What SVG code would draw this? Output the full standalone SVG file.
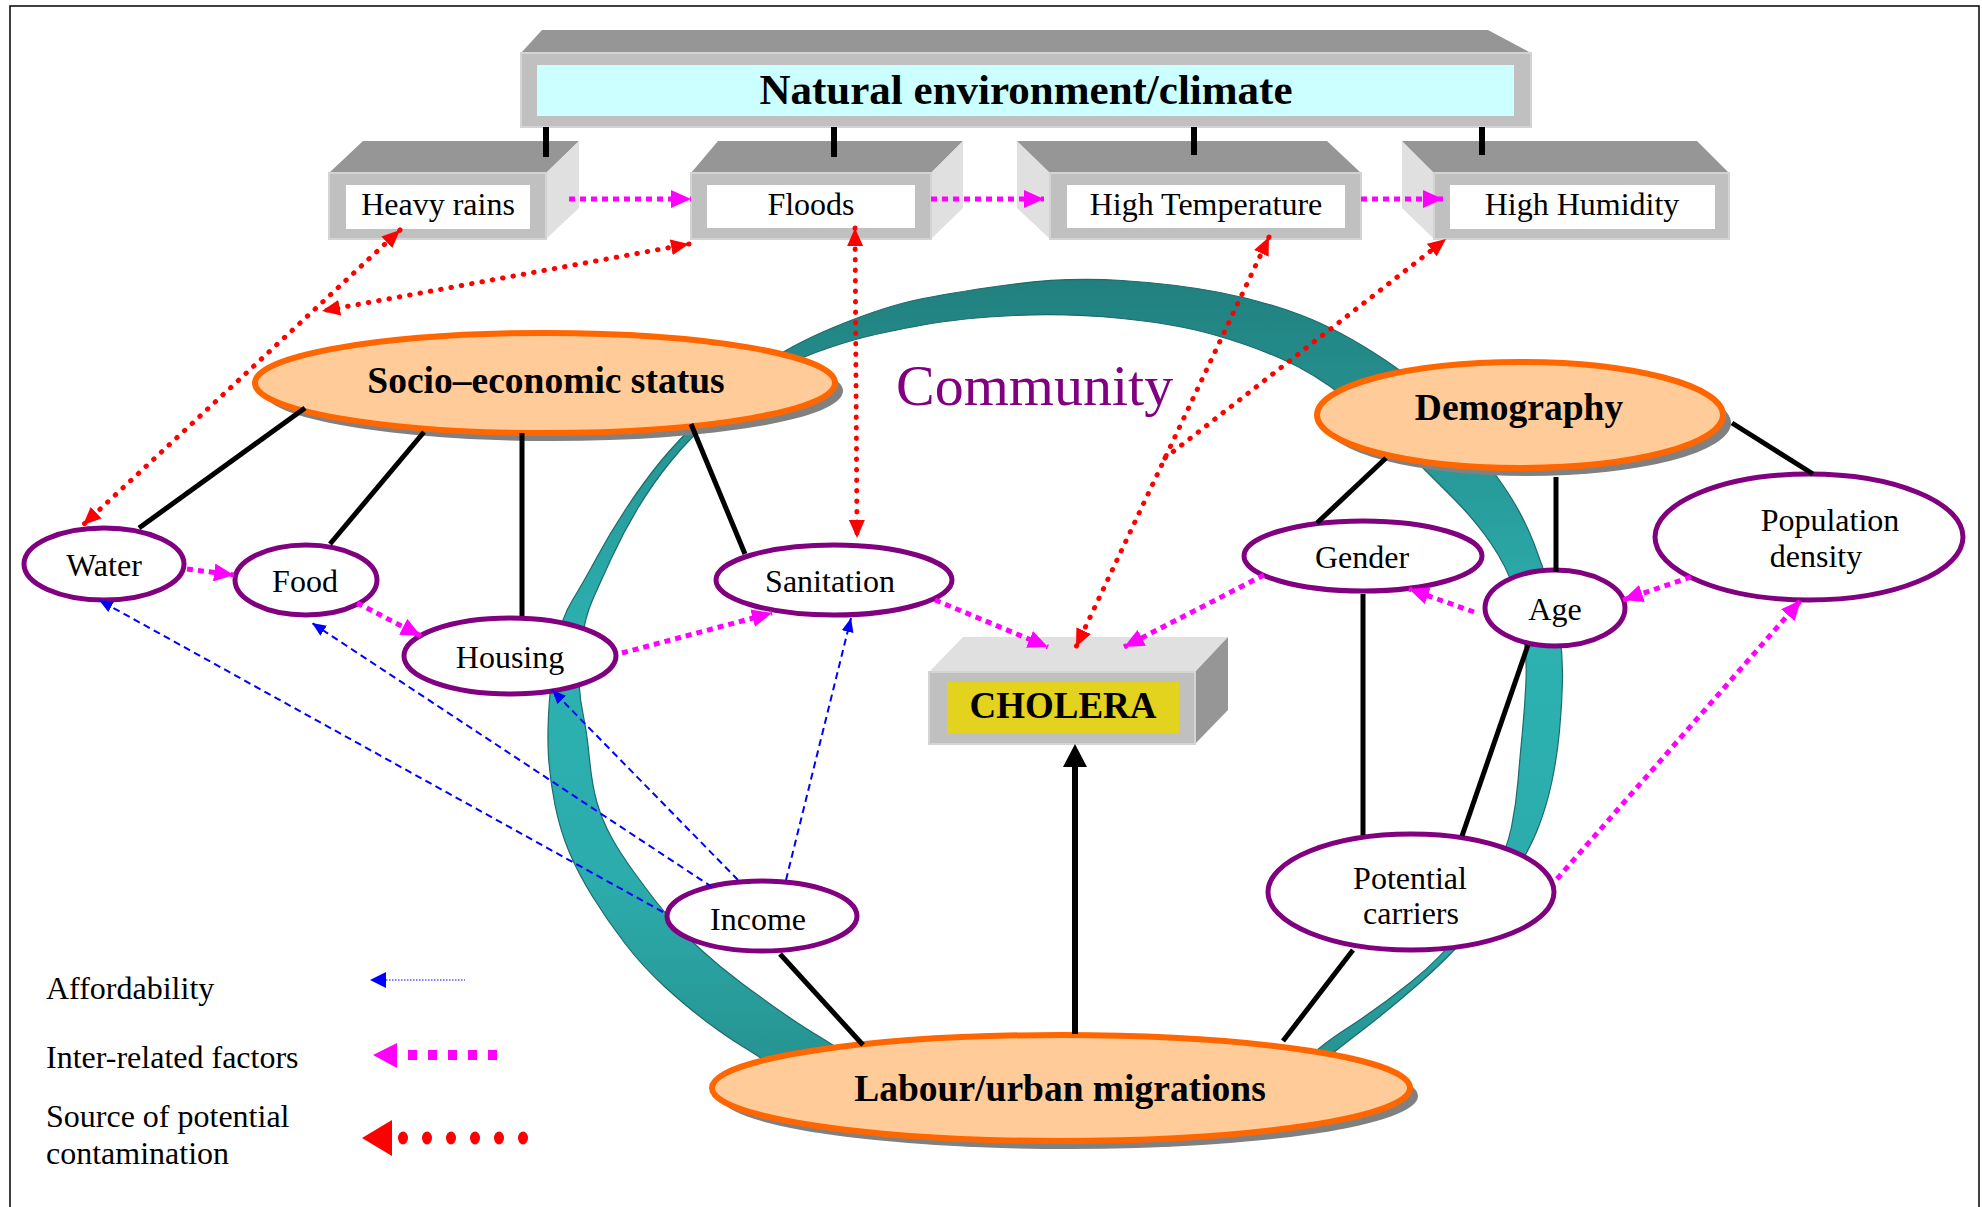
<svg xmlns="http://www.w3.org/2000/svg" width="1982" height="1207" viewBox="0 0 1982 1207">
<style>
.top{fill:#969696}
.side{fill:#E0E0E0}
.front{fill:#C0C0C0;stroke:#D4D4D4;stroke-width:2}
.inner{fill:#FFFFFF}
.t{font-family:"Liberation Serif","Times New Roman",serif;font-size:32px;text-anchor:middle;fill:#000}
.b{font-weight:bold;font-size:37.5px}
.lg{text-anchor:start}
.factor{fill:#FFFFFF;stroke:#800080;stroke-width:5}
.major{fill:#FFCC99;stroke:#FF6600;stroke-width:6}
.shadow{fill:#808080}
.black{stroke:#000;stroke-width:5;fill:none}
.inter{stroke:#FF00FF;stroke-width:5;stroke-dasharray:6 5;fill:none}
.contam{stroke:#FF0000;stroke-width:5;stroke-dasharray:0.5 10;stroke-linecap:round;fill:none}
.afford{stroke:#0000FF;stroke-width:2;stroke-dasharray:7 4.5;fill:none}
</style>
<defs>
<linearGradient id="ringGrad" gradientUnits="userSpaceOnUse" x1="0" y1="277" x2="0" y2="1080">
<stop offset="0" stop-color="#21807E"/>
<stop offset="0.25" stop-color="#279A99"/>
<stop offset="0.45" stop-color="#2DB1B1"/>
<stop offset="0.75" stop-color="#2CACAC"/>
<stop offset="1" stop-color="#25918F"/>
</linearGradient>
<marker id="mHead" markerUnits="userSpaceOnUse" markerWidth="20" markerHeight="18" viewBox="0 0 20 18" refX="20" refY="9" orient="auto-start-reverse"><path d="M0,0 L20,9 L0,18 z" fill="#FF00FF"/></marker>
<marker id="rHead" markerUnits="userSpaceOnUse" markerWidth="18" markerHeight="16" viewBox="0 0 18 16" refX="18" refY="8" orient="auto-start-reverse"><path d="M0,0 L18,8 L0,16 z" fill="#FF0000"/></marker>
<marker id="bHead" markerUnits="userSpaceOnUse" markerWidth="14" markerHeight="12" viewBox="0 0 14 12" refX="14" refY="6" orient="auto-start-reverse"><path d="M0,0 L14,6 L0,12 z" fill="#0000FF"/></marker>
<marker id="kHead" markerUnits="userSpaceOnUse" markerWidth="23" markerHeight="24" viewBox="0 0 23 24" refX="0" refY="12" orient="auto"><path d="M0,0 L23,12 L0,24 z" fill="#000"/></marker>
</defs>

<rect id="frame" x="10" y="6" width="1969" height="1215" fill="#FFFFFF" stroke="#000" stroke-width="1.5"/>

<g id="community-ring">
<path fill="url(#ringGrad)" stroke="#1E6A6A" stroke-width="1.2" stroke-linejoin="round" d="M800,1085 L780,1071 Q760,1057 743.5,1047 Q727,1037 707,1022 Q687,1007 665,987 Q643,967 625,943.5 Q607,920 592.5,896.5 Q578,873 569,851.5 Q560,830 555,805 Q550,780 548.5,756.5 Q547,733 549.5,700 Q552,667 557,642 Q562,617 572.5,600 Q583,583 596.5,558 Q610,533 626.5,508 Q643,483 660.5,461.5 Q678,440 704,416 Q730,392 757,370 Q784,348 834.5,327 Q885,306 923,298.5 Q961,291 1014.5,284 Q1068,277 1122,280.5 Q1176,284 1220,292.5 Q1264,301 1302,315.5 Q1340,330 1385,360 Q1430,390 1463.5,432.5 Q1497,475 1511,497.5 Q1525,520 1534,543.5 Q1543,567 1549.5,588.5 Q1556,610 1559.5,633 Q1563,656 1562.5,680.5 Q1562,705 1559.5,731 Q1557,757 1552,781 Q1547,805 1538.5,827 Q1530,849 1512.5,877 Q1495,905 1471,932 Q1447,959 1418.5,984 Q1390,1009 1360,1032 Q1330,1055 1315,1067.5 L1300,1080 L1290,1080 L1302.5,1064.5 Q1315,1049 1347.5,1028 Q1380,1007 1411,982 Q1442,957 1461,931 Q1480,905 1493.5,877 Q1507,849 1511.5,827 Q1516,805 1518,781 Q1520,757 1522.5,731 Q1525,705 1526,680.5 Q1527,656 1523.5,633 Q1520,610 1513.5,588.5 Q1507,567 1491,543.5 Q1475,520 1452.5,497.5 Q1430,475 1405,450 Q1380,425 1347,399 Q1314,373 1282,359 Q1250,345 1213,334.5 Q1176,324 1122,318.5 Q1068,313 1014.5,315.5 Q961,318 923,325 Q885,332 865,337 Q845,342 817,352 Q789,362 762,380 Q735,398 712.5,418 Q690,438 671.5,460.5 Q653,483 638,508 Q623,533 611.5,558 Q600,583 592.5,600 Q585,617 581.5,642 Q578,667 579,683.5 Q580,700 583.5,716.5 Q587,733 589.5,759 Q592,785 597,802.5 Q602,820 611,836.5 Q620,853 633.5,871.5 Q647,890 656,901.5 Q665,913 676,925 Q687,937 703.5,952 Q720,967 740,982 Q760,997 781.5,1012 Q803,1027 820,1037 Q837,1047 858.5,1063.5 L880,1080 Z"/>
<text class="t" x="896" y="405" style="font-size:58px;text-anchor:start;fill:#800080">Community</text>
</g>

<g id="natural-environment">
<polygon class="top" points="521,53 542,30 1488,30 1531,53"/>
<rect class="front" x="521" y="53" width="1010" height="74"/>
<rect x="537" y="65" width="977" height="51" fill="#CCFFFF"/>
<text class="t b" x="1026" y="104" style="font-size:43px">Natural environment/climate</text>
</g>

<g id="heavy-rains">
<polygon class="top" points="329,173 363,141 579,141 546,173"/>
<polygon class="side" points="546,173 579,141 579,208 546,239"/>
<rect class="front" x="329" y="173" width="217" height="66"/>
<rect class="inner" x="346" y="185" width="184" height="44"/>
<text class="t" x="438" y="215">Heavy rains</text>
</g>

<g id="floods">
<polygon class="top" points="691,173 718,141 963,141 931,173"/>
<polygon class="side" points="931,173 963,141 963,208 931,239"/>
<rect class="front" x="691" y="173" width="240" height="66"/>
<rect class="inner" x="707" y="185" width="208" height="43"/>
<text class="t" x="811" y="215">Floods</text>
</g>

<g id="high-temperature">
<polygon class="side" points="1017,141 1050,173 1050,239 1017,208"/>
<polygon class="top" points="1017,141 1327,141 1361,173 1050,173"/>
<rect class="front" x="1050" y="173" width="311" height="66"/>
<rect class="inner" x="1067" y="185" width="278" height="43"/>
<text class="t" x="1206" y="215">High Temperature</text>
</g>

<g id="high-humidity">
<polygon class="side" points="1402,141 1434,173 1434,239 1402,208"/>
<polygon class="top" points="1402,141 1697,141 1729,173 1434,173"/>
<rect class="front" x="1434" y="173" width="295" height="66"/>
<rect class="inner" x="1450" y="185" width="265" height="44"/>
<text class="t" x="1582" y="215">High Humidity</text>
</g>

<g id="cholera">
<polygon points="929,672 963,637 1228,637 1195,672" fill="#E0E0E0"/>
<polygon points="1195,672 1228,637 1228,710 1195,744" fill="#969696"/>
<rect class="front" x="929" y="672" width="266" height="72"/>
<rect x="947" y="682" width="232" height="51" fill="#E3D21E"/>
<text class="t b" x="1063" y="718" style="font-size:37px">CHOLERA</text>
</g>

<g id="socio-economic-status">
<ellipse class="shadow" cx="553" cy="391" rx="290" ry="50"/>
<ellipse class="major" cx="545" cy="383" rx="290" ry="50"/>
<text class="t b" x="546" y="393">Socio–economic status</text>
</g>

<g id="demography">
<ellipse class="shadow" cx="1528" cy="423" rx="203" ry="53"/>
<ellipse class="major" cx="1520" cy="415" rx="203" ry="53"/>
<text class="t b" x="1519" y="420">Demography</text>
</g>

<g id="labour-urban-migrations">
<ellipse class="shadow" cx="1069" cy="1096" rx="349" ry="53"/>
<ellipse class="major" cx="1061" cy="1088" rx="349" ry="53"/>
<text class="t b" x="1060" y="1101">Labour/urban migrations</text>
</g>

<g id="water"><ellipse class="factor" cx="104" cy="564" rx="80" ry="36"/><text class="t" x="104" y="576">Water</text></g>
<g id="food"><ellipse class="factor" cx="306" cy="580" rx="71" ry="35"/><text class="t" x="305" y="592">Food</text></g>
<g id="housing"><ellipse class="factor" cx="510" cy="656" rx="106" ry="38"/><text class="t" x="510" y="668">Housing</text></g>
<g id="sanitation"><ellipse class="factor" cx="834" cy="580" rx="118" ry="35"/><text class="t" x="830" y="592">Sanitation</text></g>
<g id="income"><ellipse class="factor" cx="762" cy="916" rx="95" ry="35"/><text class="t" x="758" y="930">Income</text></g>
<g id="gender"><ellipse class="factor" cx="1363" cy="556" rx="119" ry="35"/><text class="t" x="1362" y="568">Gender</text></g>
<g id="age"><ellipse class="factor" cx="1555" cy="608" rx="70" ry="38"/><text class="t" x="1555" y="620">Age</text></g>
<g id="population-density"><ellipse class="factor" cx="1809" cy="537" rx="154" ry="63"/><text class="t" x="1830" y="531">Population</text><text class="t" x="1816" y="567">density</text></g>
<g id="potential-carriers"><ellipse class="factor" cx="1411" cy="892" rx="143" ry="58"/><text class="t" x="1410" y="889">Potential</text><text class="t" x="1411" y="924">carriers</text></g>

<g id="connectors">
<g stroke="#000" stroke-width="6">
<line x1="546" y1="127" x2="546" y2="157"/>
<line x1="834" y1="127" x2="834" y2="157"/>
<line x1="1194" y1="127" x2="1194" y2="155"/>
<line x1="1482" y1="127" x2="1482" y2="155"/>
</g>
<line class="black" x1="305" y1="408" x2="139" y2="528"/>
<line class="black" x1="424" y1="432" x2="330" y2="544"/>
<line class="black" x1="522" y1="433" x2="522" y2="616"/>
<line class="black" x1="691" y1="424" x2="745" y2="554"/>
<line class="black" x1="1386" y1="458" x2="1317" y2="523"/>
<line class="black" x1="1556" y1="477" x2="1556" y2="572"/>
<line class="black" x1="1732" y1="423" x2="1813" y2="474"/>
<line class="black" x1="1363" y1="594" x2="1363" y2="835"/>
<line class="black" x1="1528" y1="645" x2="1462" y2="836"/>
<line class="black" x1="1353" y1="950" x2="1283" y2="1041"/>
<line class="black" x1="780" y1="954" x2="863" y2="1045"/>
<line stroke="#000" stroke-width="6" x1="1075" y1="1034" x2="1075" y2="767" marker-end="url(#kHead)"/>

<line class="inter" x1="569" y1="199" x2="691" y2="199" marker-end="url(#mHead)"/>
<line class="inter" x1="931" y1="199" x2="1044" y2="199" marker-end="url(#mHead)"/>
<line class="inter" x1="1361" y1="199" x2="1443" y2="199" marker-end="url(#mHead)"/>
<line class="inter" x1="187" y1="569" x2="234" y2="575" marker-end="url(#mHead)"/>
<line class="inter" x1="357" y1="603" x2="421" y2="636" marker-end="url(#mHead)"/>
<line class="inter" x1="622" y1="653" x2="772" y2="613" marker-end="url(#mHead)"/>
<line class="inter" x1="935" y1="600" x2="1048" y2="647" marker-end="url(#mHead)"/>
<line class="inter" x1="1264" y1="575" x2="1124" y2="647" marker-end="url(#mHead)"/>
<line class="inter" x1="1474" y1="612" x2="1409" y2="589" marker-end="url(#mHead)"/>
<line class="inter" x1="1691" y1="577" x2="1623" y2="600" marker-end="url(#mHead)"/>
<line class="inter" x1="1557" y1="879" x2="1801" y2="600" marker-end="url(#mHead)"/>

<line class="contam" x1="400" y1="230" x2="83" y2="525" marker-start="url(#rHead)" marker-end="url(#rHead)"/>
<line class="contam" x1="689" y1="244" x2="322" y2="311" marker-start="url(#rHead)" marker-end="url(#rHead)"/>
<line class="contam" x1="855" y1="228" x2="857" y2="538" marker-start="url(#rHead)" marker-end="url(#rHead)"/>
<line class="contam" x1="1269" y1="237" x2="1076" y2="647" marker-start="url(#rHead)" marker-end="url(#rHead)"/>
<line class="contam" x1="1165" y1="458" x2="1446" y2="239" marker-end="url(#rHead)"/>

<line class="afford" x1="663" y1="912" x2="99" y2="600" marker-end="url(#bHead)"/>
<line class="afford" x1="712" y1="887" x2="312" y2="623" marker-end="url(#bHead)"/>
<line class="afford" x1="738" y1="880" x2="552" y2="690" marker-end="url(#bHead)"/>
<line class="afford" x1="786" y1="880" x2="851" y2="618" marker-end="url(#bHead)"/>
</g>

<g id="legend">
<text class="t lg" x="46" y="999">Affordability</text>
<polygon points="370,980 386,972 386,988" fill="#0000FF"/>
<line x1="386" y1="980" x2="465" y2="980" stroke="#5555FF" stroke-width="1.5" stroke-dasharray="1.5 1.5"/>
<text class="t lg" x="46" y="1068">Inter-related factors</text>
<polygon points="373,1055 397,1043 397,1068" fill="#FF00FF"/>
<line x1="408" y1="1055" x2="497" y2="1055" stroke="#FF00FF" stroke-width="10" stroke-dasharray="9 11"/>
<text class="t lg" x="46" y="1127">Source of potential</text>
<text class="t lg" x="46" y="1164">contamination</text>
<polygon points="362,1138 392,1120 392,1156" fill="#FF0000"/>
<g fill="#FF0000">
<ellipse cx="403" cy="1138" rx="5" ry="6.5"/>
<ellipse cx="427" cy="1138" rx="5" ry="6.5"/>
<ellipse cx="451" cy="1138" rx="5" ry="6.5"/>
<ellipse cx="475" cy="1138" rx="5" ry="6.5"/>
<ellipse cx="499" cy="1138" rx="5" ry="6.5"/>
<ellipse cx="523" cy="1138" rx="5" ry="6.5"/>
</g>
</g>
</svg>
